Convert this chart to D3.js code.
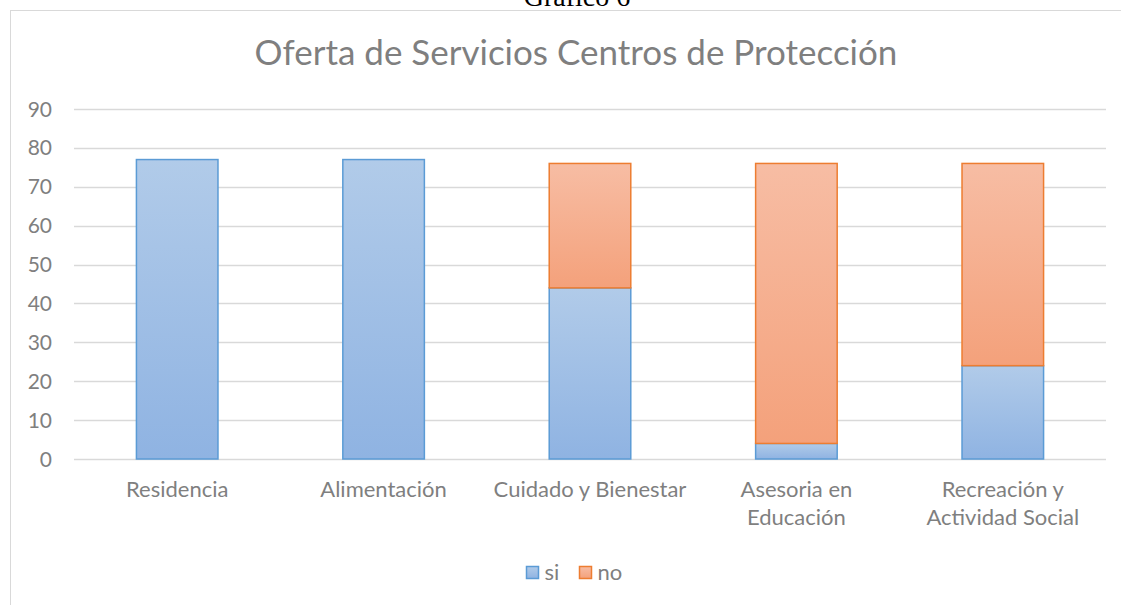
<!DOCTYPE html>
<html>
<head>
<meta charset="utf-8">
<script src="https://cdn.jsdelivr.net/npm/d3@7"></script>
<style>
  body { margin: 0; background: #fff; }
  text { font-family: Lato, 'Open Sans', sans-serif; fill: #7f7f7f; }
</style>
</head>
<body>
<div id="chart"></div>
<script>
let categories = [['Residencia'], ['Alimentación'], ['Cuidado y Bienestar'], ['Asesoria en', 'Educación'], ['Recreación y', 'Actividad Social']]
let siValues = [77, 77, 44, 4, 24]
let noValues = [0, 0, 32, 72, 52]
let yTicks = [0, 10, 20, 30, 40, 50, 60, 70, 80, 90]
let seriesNames = ['si', 'no']

let width = 1121,
  height = 605

let svg = d3.select('#chart').append('svg')
  .attr('width', width)
  .attr('height', height)

let defs = svg.append('defs')
let gradBlue = defs.append('linearGradient').attr('id', 'gBlue')
  .attr('x1', 0).attr('y1', 0).attr('x2', 0).attr('y2', 1)
gradBlue.append('stop').attr('offset', '0%').attr('stop-color', '#b1cbe9')
gradBlue.append('stop').attr('offset', '100%').attr('stop-color', '#8fb3e2')
let gradOrange = defs.append('linearGradient').attr('id', 'gOrange')
  .attr('x1', 0).attr('y1', 0).attr('x2', 0).attr('y2', 1)
gradOrange.append('stop').attr('offset', '0%').attr('stop-color', '#f7bda4')
gradOrange.append('stop').attr('offset', '100%').attr('stop-color', '#f4a17b')

// caption above the chart box (cropped at the top, as in the source)
svg.append('text')
  .attr('x', 577).attr('y', 6)
  .attr('text-anchor', 'middle')
  .style('font-family', "'Liberation Serif', serif")
  .style('fill', '#000')
  .style('font-size', '28px')
  .text('Gráfico 6')

// chart border
svg.append('rect')
  .attr('x', 10.5).attr('y', 10.5)
  .attr('width', 1130).attr('height', 620)
  .attr('fill', 'none')
  .attr('stroke', '#d9d9d9')

svg.append('text')
  .attr('x', 576).attr('y', 65)
  .attr('text-anchor', 'middle')
  .style('font-size', '35px')
  .text('Oferta de Servicios Centros de Protección')

let margin = { left: 74, right: 15, top: 109, bottom: 146 }

let x = d3.scaleBand()
  .domain(d3.range(categories.length))
  .range([margin.left, width - margin.right])
  .paddingInner(0.6)
  .paddingOuter(0.3)

let y = d3.scaleLinear()
  .domain([0, 90])
  .range([height - margin.bottom, margin.top])

svg.append('g').selectAll('line')
  .data(yTicks)
  .enter().append('line')
  .attr('x1', margin.left).attr('x2', width - margin.right)
  .attr('y1', d => Math.round(y(d)) + 0.5).attr('y2', d => Math.round(y(d)) + 0.5)
  .attr('stroke', '#d9d9d9')
  .attr('stroke-width', 1.5)

svg.append('g').selectAll('text')
  .data(yTicks)
  .enter().append('text')
  .attr('x', 52).attr('y', d => y(d) + 7.5)
  .attr('text-anchor', 'end')
  .style('font-size', '21px')
  .text(d => d)

let stacked = categories.map((c, i) => ({ i: i, si: siValues[i], no: noValues[i] }))

let bars = svg.append('g')
bars.selectAll('.si')
  .data(stacked)
  .enter().append('rect')
  .attr('class', 'si')
  .attr('x', d => x(d.i) + 0.5)
  .attr('width', x.bandwidth() - 1)
  .attr('y', d => y(d.si))
  .attr('height', d => y(0) - y(d.si))
  .attr('fill', 'url(#gBlue)')
  .attr('stroke', '#5b9bd5')
  .attr('stroke-width', 1.5)

bars.selectAll('.no')
  .data(stacked.filter(d => d.no > 0))
  .enter().append('rect')
  .attr('class', 'no')
  .attr('x', d => x(d.i) + 0.5)
  .attr('width', x.bandwidth() - 1)
  .attr('y', d => y(d.si + d.no))
  .attr('height', d => y(d.si) - y(d.si + d.no))
  .attr('fill', 'url(#gOrange)')
  .attr('stroke', '#ed7d31')
  .attr('stroke-width', 1.5)

let labels = svg.append('g').selectAll('text')
  .data(categories)
  .enter().append('text')
  .attr('x', (d, i) => x(i) + x.bandwidth() / 2)
  .attr('y', 497)
  .attr('text-anchor', 'middle')
  .style('font-size', '22px')
labels.selectAll('tspan')
  .data(d => d)
  .enter().append('tspan')
  .attr('x', function () { return d3.select(this.parentNode).attr('x') })
  .attr('dy', (d, i) => i === 0 ? 0 : 28)
  .text(d => d)

// legend
let legend = svg.append('g')
let legendX = [526.5, 579.5]
let legendFill = ['url(#gBlue)', 'url(#gOrange)']
let legendStroke = ['#5b9bd5', '#ed7d31']
seriesNames.forEach((s, i) => {
  legend.append('rect')
    .attr('x', legendX[i]).attr('y', 566.5)
    .attr('width', 12).attr('height', 12)
    .attr('fill', legendFill[i])
    .attr('stroke', legendStroke[i])
    .attr('stroke-width', 1.5)
  legend.append('text')
    .attr('x', legendX[i] + 18).attr('y', 580)
    .style('font-size', '22px')
    .text(s)
})
</script>
</body>
</html>
